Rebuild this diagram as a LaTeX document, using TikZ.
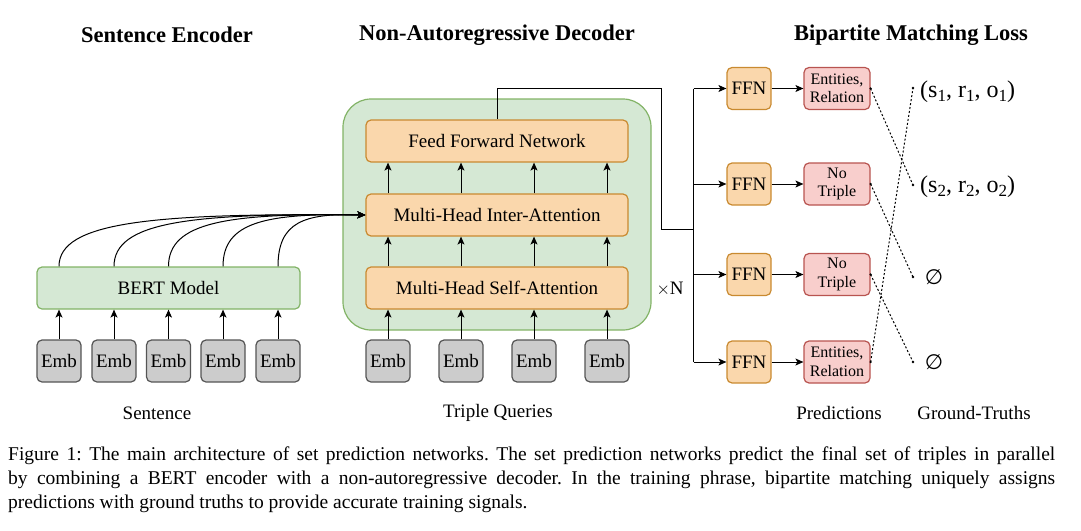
\documentclass[tikz,border=0pt]{standalone}
\usepackage{fontspec}
\setmainfont{Liberation Serif}
\newfontfamily\dejavu{DejaVu Sans}
\usetikzlibrary{arrows.meta}
\definecolor{grfill}{HTML}{D5E8D4}
\definecolor{grline}{HTML}{82B366}
\definecolor{orfill}{HTML}{FAD7AC}
\definecolor{orline}{HTML}{C98A30}
\definecolor{rdfill}{HTML}{F8CECC}
\definecolor{rdline}{HTML}{B85450}
\definecolor{gyfill}{HTML}{CCCCCC}
\definecolor{gyline}{HTML}{555555}
\newcommand{\sbs}[1]{\raisebox{-3.5pt}{\fontsize{17}{17}\selectfont #1}}
\tikzset{
  box/.style={draw, line width=1.2pt, rounded corners=5pt, inner sep=0pt, align=center},
  embbox/.style={box, fill=gyfill, draw=gyline, minimum width=44pt, minimum height=42pt, font=\fontsize{19}{22}\selectfont},
  greenbox/.style={box, fill=grfill, draw=grline},
  orbox/.style={box, fill=orfill, draw=orline, font=\fontsize{19}{22}\selectfont},
  rdbox/.style={box, fill=rdfill, draw=rdline, minimum width=66pt, minimum height=42pt, font=\fontsize{16}{18.5}\selectfont},
  arr/.style={-{Stealth[length=8pt,width=7pt,inset=2pt]}, line width=1pt},
  conn/.style={line width=1pt},
  dotl/.style={line width=1pt, dash pattern=on 2pt off 2pt},
  title/.style={font=\bfseries\fontsize{22.5}{26}\selectfont},
  lbl/.style={font=\fontsize{19}{22}\selectfont},
  gt/.style={anchor=west, font=\fontsize{24}{26}\selectfont, inner sep=0pt},
  emp/.style={anchor=center, font=\dejavu\fontsize{21}{26}\selectfont, inner sep=0pt},
  capline/.style={anchor=base west, inner sep=0pt, font=\fontsize{19.5}{23}\selectfont}
}
\begin{document}
\frenchspacing
\begin{tikzpicture}[x=1pt,y=-1pt]
\useasboundingbox (0,0) rectangle (1081,530);
% titles
\node[title] (t1) at (167,35) {Sentence Encoder};
\node[title] (t2) at (497,35) {Non-Autoregressive Decoder};
\node[title] (t3) at (911,35) {Bipartite Matching Loss};
% encoder
\node[greenbox, minimum width=263pt, minimum height=42pt, font=\fontsize{19}{22}\selectfont] (bert) at (168.5,288) {BERT Model};
\foreach \i/\x in {1/59,2/114,3/168.5,4/223,5/278}{
  \node[embbox] (e\i) at (\x,361) {Emb};
  \draw[arr] (e\i.north) -- (e\i.north |- bert.south);
}
% decoder container
\node[greenbox, rounded corners=28pt, minimum width=308pt, minimum height=231pt] (dec) at (497,214.5) {};
\node[orbox, minimum width=262pt, minimum height=42pt] (ffn) at (497,141) {Feed Forward Network};
\node[orbox, minimum width=262pt, minimum height=42pt] (inter) at (497,215) {Multi-Head Inter-Attention};
\node[orbox, minimum width=262pt, minimum height=42pt] (self) at (497,288) {Multi-Head Self-Attention};
\foreach \i/\x in {1/388,2/461,3/534,4/607}{
  \node[embbox] (q\i) at (\x,361) {Emb};
  \draw[arr] (q\i.north) -- (q\i.north |- self.south);
  \draw[arr] (self.north -| q\i) -- (inter.south -| q\i);
  \draw[arr] (inter.north -| q\i) -- (ffn.south -| q\i);
}
% encoder to inter-attention curves
\foreach \i/\x in {1/59,2/114,3/168.5,4/223,5/278}{
  \pgfmathsetmacro{\cx}{\x+0.3*(365-\x)}
  \draw[arr] (bert.north -| e\i) .. controls (\x,222) and (\cx,213) .. (inter.west);
}
\node[lbl, anchor=west] (xn) at (653,289) {$\times$N};
% output routing
\coordinate (c1) at (497,88.5);
\coordinate (c2) at (661,88.5);
\coordinate (c3) at (661,229);
\coordinate (c4) at (693.5,229);
\draw[conn] (ffn.north) -- (c1) -- (c2) -- (c3) -- (c4);
\coordinate (trtop) at (693.5,88.5);
\coordinate (trbot) at (693.5,362);
\draw[conn] (trtop) -- (trbot);
\foreach \i/\y/\t in {1/88.5/{Entities,\\Relation},2/184/{No\\Triple},3/274.5/{No\\Triple},4/362/{Entities,\\Relation}}{
  \node[orbox, minimum width=44pt, minimum height=42pt] (f\i) at (749,\y) {FFN};
  \node[rdbox] (p\i) at (837,\y) {\t};
  \draw[arr] (trtop |- f\i) -- (f\i.west);
  \draw[arr] (f\i.east) -- (p\i.west);
}
% ground truths
\coordinate (g1) at (913,88);
\coordinate (g2) at (913,185);
\coordinate (g3) at (913,277);
\coordinate (g4) at (913,362);
\node[gt] (gt1) at (920,92) {(s\sbs{1}, r\sbs{1}, o\sbs{1})};
\node[gt] (gt2) at (920,187) {(s\sbs{2}, r\sbs{2}, o\sbs{2})};
\node[emp] (gt3) at (934,277.5) {∅};
\node[emp] (gt4) at (934,362.5) {∅};
\draw[dotl] (p1.east) -- (g2);
\draw[dotl] (p2.east) -- (g3);
\draw[dotl] (p3.east) -- (g4);
\draw[dotl] (p4.east) -- (g1);
\foreach \n in {p1.east,p2.east,p3.east,p4.east,g1,g2,g3,g4}{
  \fill (\n) circle (1.3pt);
}
% bottom labels
\node[lbl] (l1) at (157,413) {Sentence};
\node[lbl] (l2) at (498,413) {Triple Queries};
\node[lbl] (l3) at (839,413) {Predictions};
\node[lbl] (l4) at (974,413) {Ground-Truths};
% caption
\node[capline] (cap1) at (8,460) {\makebox[1047pt][s]{Figure 1: The main architecture of set prediction networks. The set prediction networks predict the final set of triples in parallel}};
\node[capline] (cap2) at (8,484) {\makebox[1047pt][s]{by combining a BERT encoder with a non-autoregressive decoder. In the training phrase, bipartite matching uniquely assigns}};
\node[capline] (cap3) at (8,508) {predictions with ground truths to provide accurate training signals.};
\end{tikzpicture}
\end{document}
